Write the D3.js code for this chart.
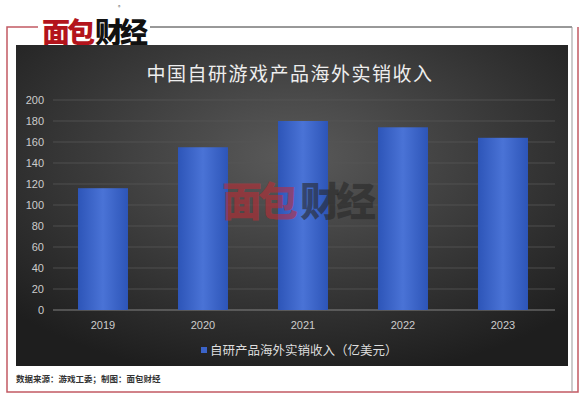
<!DOCTYPE html>
<html><head><meta charset="utf-8">
<script src="https://cdn.jsdelivr.net/npm/d3@7"></script>
<style>body{margin:0;background:#fff;font-family:"Noto Sans CJK SC","Noto Sans",sans-serif}</style>
</head><body><svg id="c" width="583" height="400"></svg>
<script>
const years = ['2019', '2020', '2021', '2022', '2023'];
const revenue = [116, 155, 180, 174, 164];
const yTicks = [0, 20, 40, 60, 80, 100, 120, 140, 160, 180, 200];

const svg = d3.select('#c');
const defs = svg.append('defs');

// panel background: radial glow in the middle
const bg = defs.append('radialGradient').attr('id', 'bg').attr('cx', '50%').attr('cy', '35%').attr('r', '70%');
bg.append('stop').attr('offset', '0%').attr('stop-color', '#5a5a5a');
bg.append('stop').attr('offset', '100%').attr('stop-color', '#1e1e1e');

const barG = defs.append('linearGradient').attr('id', 'bar').attr('x1', 0).attr('x2', 1).attr('y1', 0).attr('y2', 0);
barG.append('stop').attr('offset', '0%').attr('stop-color', '#2d55b8');
barG.append('stop').attr('offset', '50%').attr('stop-color', '#4a73d6');
barG.append('stop').attr('offset', '100%').attr('stop-color', '#2d55b8');

// outer frame
svg.append('path').attr('d', 'M38,27 H7 V392 H578 V27').attr('fill', 'none').attr('stroke', '#c25a63').attr('stroke-width', 1.5);
svg.append('line').attr('x1', 150).attr('x2', 572).attr('y1', 27).attr('y2', 27).attr('stroke', '#333');
svg.append('line').attr('x1', 572).attr('x2', 572).attr('y1', 27).attr('y2', 392).attr('stroke', '#999');

// logo
svg.append('text').attr('x', 42).attr('y', 43).attr('font-size', 28).attr('font-weight', 900)
  .attr('letter-spacing', -3).attr('fill', '#b3141c').text('面包');
svg.append('text').attr('x', 95).attr('y', 43).attr('font-size', 28).attr('font-weight', 900)
  .attr('letter-spacing', -3).attr('fill', '#111').text('财经');
svg.append('text').attr('x', 118).attr('y', 9).attr('font-size', 5).attr('fill', '#555').text('®');

// dark panel
svg.append('rect').attr('x', 16).attr('y', 45).attr('width', 552).attr('height', 321).attr('fill', 'url(#bg)');

svg.append('text').attr('x', 290).attr('y', 81).attr('text-anchor', 'middle').attr('font-size', 19)
  .attr('fill', '#eee').attr('letter-spacing', 1.5).text('中国自研游戏产品海外实销收入');

const x = d3.scaleBand().domain(years).range([53, 553]).paddingInner(0.5).paddingOuter(0.25);
const y = d3.scaleLinear().domain([0, 200]).range([310, 100]);

const g = svg.append('g');
g.selectAll('.grid').data(yTicks).join('line')
  .attr('x1', 53).attr('x2', 555).attr('y1', d => y(d)).attr('y2', d => y(d))
  .attr('stroke', d => d === 0 ? '#999' : '#555').attr('stroke-width', 0.8);
g.selectAll('.yl').data(yTicks).join('text')
  .attr('x', 44).attr('y', d => y(d) + 4).attr('text-anchor', 'end').attr('font-size', 11)
  .attr('fill', '#ccc').attr('font-family', 'Liberation Sans, Arial').text(d => d);

g.selectAll('.bar').data(revenue).join('rect')
  .attr('x', (d, i) => x(years[i])).attr('width', x.bandwidth())
  .attr('y', d => y(d)).attr('height', d => y(0) - y(d)).attr('fill', 'url(#bar)');

g.selectAll('.xl').data(years).join('text')
  .attr('x', d => x(d) + x.bandwidth() / 2).attr('y', 329).attr('text-anchor', 'middle')
  .attr('font-size', 11).attr('fill', '#ccc').attr('font-family', 'Liberation Sans, Arial').text(d => d);

// legend
svg.append('rect').attr('x', 201).attr('y', 347).attr('width', 6).attr('height', 6).attr('fill', '#3b63c8');
svg.append('text').attr('x', 210).attr('y', 355).attr('font-size', 12.5).attr('fill', '#ddd')
  .text('自研产品海外实销收入（亿美元）');

// watermark
svg.append('text').attr('x', 222).attr('y', 216).attr('font-size', 40).attr('font-weight', 900)
  .attr('letter-spacing', -4).attr('fill', 'rgba(200,40,50,0.55)').text('面包');
svg.append('text').attr('x', 300).attr('y', 216).attr('font-size', 40).attr('font-weight', 900)
  .attr('letter-spacing', -4).attr('fill', 'rgba(40,40,40,0.6)').text('财经');

svg.append('text').attr('x', 16).attr('y', 382).attr('font-size', 8.5).attr('font-weight', 'bold')
  .attr('fill', '#333').text('数据来源：游戏工委；制图：面包财经');
</script></body></html>
